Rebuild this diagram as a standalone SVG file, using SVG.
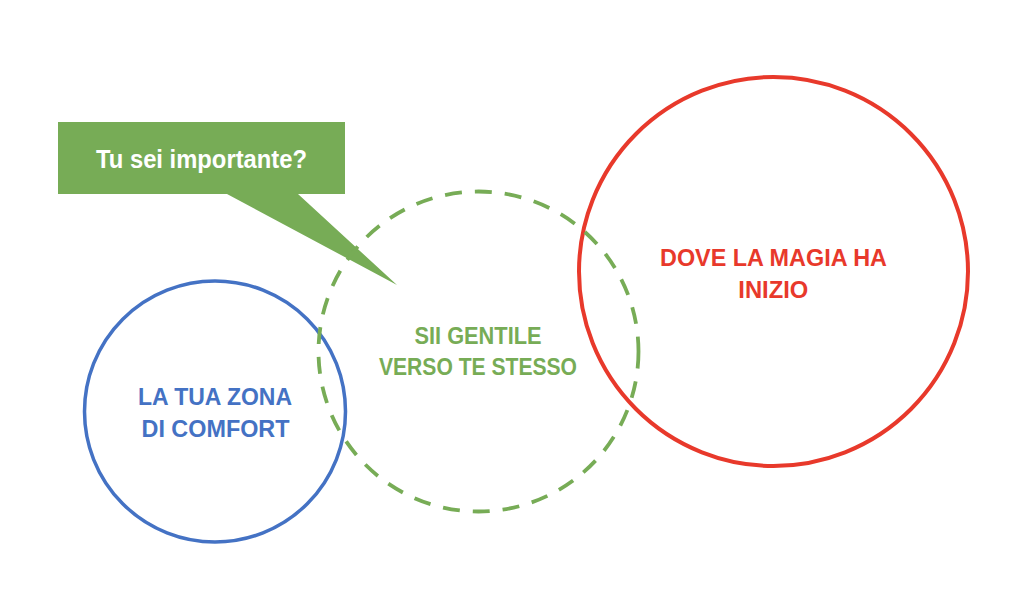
<svg xmlns="http://www.w3.org/2000/svg" width="1024" height="615" viewBox="0 0 1024 615">
<style>
.lbl{font-family:"Liberation Sans",Arial,sans-serif;font-weight:bold;font-size:24px;text-anchor:middle}
</style>
<rect width="1024" height="615" fill="#ffffff"/>
<g id="callout">
<path d="M58,122 H345 V194 H298 L397,285 L227,194 H58 Z" fill="#77AC56"/>
<text x="201.5" y="168" class="lbl" style="font-size:26px" fill="#ffffff" textLength="211" lengthAdjust="spacingAndGlyphs">Tu sei importante?</text>
</g>
<g id="comfort">
<circle cx="215" cy="411.5" r="130.5" fill="none" stroke="#4472C4" stroke-width="3.5"/>
<text x="215" y="405" class="lbl" fill="#4472C4" textLength="154" lengthAdjust="spacingAndGlyphs">LA TUA ZONA</text>
<text x="215.5" y="436.5" class="lbl" fill="#4472C4" textLength="148" lengthAdjust="spacingAndGlyphs">DI COMFORT</text>
</g>
<g id="magia">
<circle cx="773.5" cy="271.5" r="194.5" fill="none" stroke="#E8392B" stroke-width="4"/>
<text x="773.5" y="266" class="lbl" fill="#E8392B" textLength="227" lengthAdjust="spacingAndGlyphs">DOVE LA MAGIA HA</text>
<text x="773.3" y="298" class="lbl" fill="#E8392B" textLength="70" lengthAdjust="spacingAndGlyphs">INIZIO</text>
</g>
<g id="gentile">
<circle cx="478.5" cy="351.5" r="160" fill="none" stroke="#77AC56" stroke-width="3.8" stroke-dasharray="17 13"/>
<text x="478" y="344" class="lbl" fill="#77AC56" textLength="127" lengthAdjust="spacingAndGlyphs">SII GENTILE</text>
<text x="478" y="375" class="lbl" fill="#77AC56" textLength="198" lengthAdjust="spacingAndGlyphs">VERSO TE STESSO</text>
</g>
<g id="connectors"></g>
</svg>
